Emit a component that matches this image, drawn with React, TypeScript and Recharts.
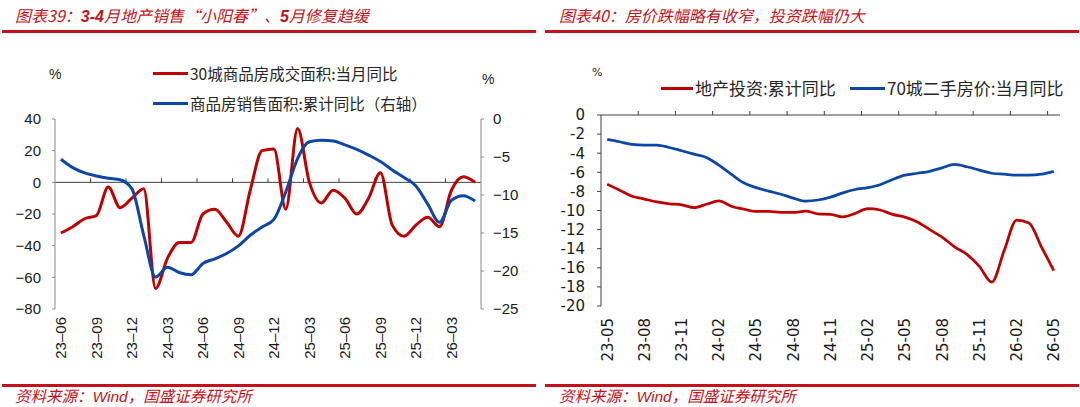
import React from 'react';
import { LineChart, Line, XAxis, YAxis, ReferenceLine } from 'recharts';

// ---------- 图表39：30城成交面积 与 全国商品房销售面积 ----------
const months39 = [
  '23-06', '23-07', '23-08', '23-09', '23-10', '23-11', '23-12',
  '24-01', '24-02', '24-03', '24-04', '24-05', '24-06', '24-07', '24-08', '24-09', '24-10', '24-11', '24-12',
  '25-01', '25-02', '25-03', '25-04', '25-05', '25-06', '25-07', '25-08', '25-09', '25-10', '25-11', '25-12',
  '26-01', '26-02', '26-03', '26-04', '26-05',
];
// 30城商品房成交面积:当月同比 (%)
const city30DealAreaYoY = [
  -32, -28, -23, -21, -3, -16, -10, -4, -67, -48, -38, -38, -20, -17, -25, -34, -5, 20, 21,
  -17, 34, 0, -13, -5, -10, -20, -10, 6, -27, -34, -27, -22, -28, -5, 3.5, 0,
];
// 商品房销售面积:累计同比 (%，右轴)
const salesAreaCumYoY = [
  -5.3, -6.4, -7.1, -7.5, -7.8, -8.0, -9.2, -15.3, -20.8, -19.5, -20.2, -20.5, -19.0, -18.4, -17.7, -16.7,
  -15.3, -14.2, -13.2, -9.6, -5.2, -3.0, -2.8, -2.9, -3.4, -4.0, -4.75, -5.6, -6.7, -7.7, -8.8, -11.2,
  -13.6, -10.7, -10.1, -10.8,
];
const tickLabels39 = ['23-06', '23-09', '23-12', '24-03', '24-06', '24-09', '24-12', '25-03', '25-06', '25-09', '25-12', '26-03'];
const leftTicks39 = [40, 20, 0, -20, -40, -60, -80];
const rightTicks39 = [0, -5, -10, -15, -20, -25];
const legend39 = ['30城商品房成交面积:当月同比', '商品房销售面积:累计同比（右轴）'];

// ---------- 图表40：地产投资 与 70城二手房价 ----------
const months40 = [
  '23-05', '23-06', '23-07', '23-08', '23-09', '23-10', '23-11', '23-12',
  '24-01', '24-02', '24-03', '24-04', '24-05', '24-06', '24-07', '24-08', '24-09', '24-10', '24-11', '24-12',
  '25-01', '25-02', '25-03', '25-04', '25-05', '25-06', '25-07', '25-08', '25-09', '25-10', '25-11', '25-12',
  '26-01', '26-02', '26-03', '26-04', '26-05',
];
// 地产投资:累计同比 (%)
const investCumYoY = [
  -7.24, -7.87, -8.5, -8.8, -9.1, -9.3, -9.4, -9.7, -9.35, -9.0, -9.55, -9.86, -10.1, -10.1, -10.2, -10.2,
  -10.07, -10.35, -10.4, -10.67, -10.3, -9.8, -9.95, -10.4, -10.7, -11.2, -12.0, -12.8, -13.8, -14.6, -15.85,
  -17.5, -14.2, -11.0, -11.3, -13.8, -16.3,
];
// 70城二手房价:当月同比 (%)
const resalePrice70YoY = [
  -2.55, -2.8, -3.08, -3.15, -3.15, -3.4, -3.74, -4.1, -4.44, -5.25, -6.2, -7.1, -7.6, -7.97, -8.3, -8.7,
  -9.02, -8.9, -8.6, -8.15, -7.8, -7.6, -7.3, -6.75, -6.3, -6.1, -5.9, -5.53, -5.18, -5.42, -5.77, -6.1,
  -6.2, -6.3, -6.3, -6.2, -5.9,
];
const tickLabels40 = ['23-05', '23-08', '23-11', '24-02', '24-05', '24-08', '24-11', '25-02', '25-05', '25-08', '25-11', '26-02', '26-05'];
const yTicks40 = [0, -2, -4, -6, -8, -10, -12, -14, -16, -18, -20];
const legend40 = ['地产投资:累计同比', '70城二手房价:当月同比'];

const RED = '#C00000';
const BLUE = '#0B47A5';
const BRAND = '#C4121C';
const CJK = '"Noto Sans CJK SC", "Noto Sans", sans-serif';
const ARIAL = '"Liberation Sans", Arial, sans-serif';
const VERDANA = '"DejaVu Sans", Verdana, sans-serif';

const rows39 = months39.map((m, i) => ({ i, month: m, city30: city30DealAreaYoY[i], salesCum: salesAreaCumYoY[i] }));
const rows40 = months40.map((m, i) => ({ i, month: m, invest: investCumYoY[i], price: resalePrice70YoY[i] }));

const minusSign = (v: number) => String(v).replace('-', '\u2212');

// horizontal axis line with upward tick marks at every `every`-th category boundary
const baselineWithTicks = (count: number, every: number, len: number, color: string) => (p: any) => {
  const { x1, x2, y1 } = p;
  const step = (x2 - x1) / count;
  const xs: number[] = [];
  for (let k = every; k < count; k += every) xs.push(x1 + k * step);
  return (
    <g>
      <line x1={x1} y1={y1} x2={x2} y2={y1} stroke={color} strokeWidth={1} />
      {xs.map((x) => (
        <line key={x} x1={x} y1={y1} x2={x} y2={y1 - len} stroke={color} strokeWidth={1} />
      ))}
    </g>
  );
};

const dateTick = (labels: string[], font: string, size: number, dash: string) => (p: any) => {
  const { x, y, payload } = p;
  const text = labels[payload.value].replace('-', dash);
  return (
    <text
      x={x}
      y={y}
      transform={`rotate(-90 ${x} ${y})`}
      textAnchor="end"
      dy="0.36em"
      fontFamily={font}
      fontSize={size}
      fill="#1a1a1a"
    >
      {text}
    </text>
  );
};

const Title = ({ left, children }: { left: number; children: React.ReactNode }) => (
  <div
    style={{
      position: 'absolute', left, top: 5, fontFamily: CJK, fontSize: 16, lineHeight: '20px',
      fontStyle: 'italic', color: BRAND, whiteSpace: 'nowrap',
    }}
  >
    {children}
  </div>
);

const Rule = ({ left, top, width }: { left: number; top: number; width: number }) => (
  <div style={{ position: 'absolute', left, top, width, height: 3, background: BRAND }} />
);

const Source = ({ left }: { left: number }) => (
  <div
    style={{
      position: 'absolute', left, top: 387, fontFamily: CJK, fontSize: 15.5, lineHeight: '17px',
      fontStyle: 'italic', color: BRAND, whiteSpace: 'nowrap',
    }}
  >
    资料来源：<span style={{ fontFamily: ARIAL }}>Wind</span>，国盛证券研究所
  </div>
);

const LegendItem = ({ left, cy, color, sample, text, size }: { left: number; cy: number; color: string; sample: number; text: string; size: number }) => (
  <div style={{ position: 'absolute', left, top: cy - 11, height: 22, display: 'flex', alignItems: 'center', whiteSpace: 'nowrap' }}>
    <div style={{ width: sample, height: 3, background: color, marginRight: 2 }} />
    <span style={{ fontFamily: CJK, fontSize: size, color: '#262626', lineHeight: '22px' }}>{text}</span>
  </div>
);

const Unit = ({ left, cy, size, font }: { left: number; cy: number; size: number; font: string }) => (
  <div style={{ position: 'absolute', left, top: cy - 10, fontFamily: font, fontSize: size, lineHeight: '20px', color: '#1a1a1a' }}>%</div>
);

function Panel39() {
  return (
    <div style={{ position: 'absolute', left: 0, top: 0, width: 540, height: 407 }}>
      <LineChart width={540} height={375} data={rows39} margin={{ top: 119, right: 14, bottom: 6, left: 10 }}>
        <XAxis
          dataKey="i"
          type="number"
          domain={[-0.5, months39.length - 0.5]}
          ticks={tickLabels39.map((t) => months39.indexOf(t))}
          interval={0}
          height={60}
          axisLine={false}
          tickLine={false}
          tickSize={0}
          tickMargin={8}
          tick={dateTick(months39, ARIAL, 15, '\u2013')}
        />
        <YAxis
          yAxisId="left"
          width={45}
          domain={[-80, 40]}
          ticks={leftTicks39}
          interval={0}
          tickFormatter={minusSign}
          axisLine={{ stroke: '#8a8a8a' }}
          tickLine={{ stroke: '#8a8a8a' }}
          tickSize={3}
          tickMargin={11}
          tick={{ fill: '#1a1a1a', fontSize: 15, fontFamily: ARIAL }}
        />
        <YAxis
          yAxisId="right"
          orientation="right"
          width={45}
          domain={[-25, 0]}
          ticks={rightTicks39}
          interval={0}
          tickFormatter={minusSign}
          axisLine={{ stroke: '#8a8a8a' }}
          tickLine={{ stroke: '#8a8a8a' }}
          tickSize={3}
          tickMargin={9}
          tick={{ fill: '#1a1a1a', fontSize: 15, fontFamily: ARIAL }}
        />
        <ReferenceLine yAxisId="left" y={0} shape={baselineWithTicks(months39.length, 3, 4, '#404040')} />
        <Line
          yAxisId="left"
          dataKey="city30"
          type="monotone"
          stroke={RED}
          strokeWidth={3}
          dot={false}
          activeDot={false}
          isAnimationActive={false}
        />
        <Line
          yAxisId="right"
          dataKey="salesCum"
          type="monotone"
          stroke={BLUE}
          strokeWidth={3}
          dot={false}
          activeDot={false}
          isAnimationActive={false}
        />
      </LineChart>

      <Title left={15}>
        图表39：<b style={{ fontFamily: ARIAL }}>3-4</b>月地产销售“小阳春”、<b style={{ fontFamily: ARIAL }}>5</b>月修复趋缓
      </Title>
      <Rule left={2} top={30} width={534} />
      <LegendItem left={153} cy={73} color={RED} sample={35} text={legend39[0]} size={15.5} />
      <LegendItem left={153} cy={103} color={BLUE} sample={35} text={legend39[1]} size={15.5} />
      <Unit left={49} cy={74} size={14} font={ARIAL} />
      <Unit left={482} cy={79} size={14} font={ARIAL} />
      <Rule left={2} top={384} width={534} />
      <Source left={15} />
    </div>
  );
}

function Panel40() {
  return (
    <div style={{ position: 'absolute', left: 540, top: 0, width: 540, height: 407 }}>
      <LineChart width={540} height={375} data={rows40} margin={{ top: 115, right: 20, bottom: 9, left: 5 }}>
        <XAxis
          dataKey="i"
          type="number"
          domain={[-0.5, months40.length - 0.5]}
          ticks={tickLabels40.map((t) => months40.indexOf(t))}
          interval={0}
          height={60}
          axisLine={false}
          tickLine={false}
          tickSize={0}
          tickMargin={12}
          tick={dateTick(months40, VERDANA, 15, '-')}
        />
        <YAxis
          width={56}
          domain={[-20, 0]}
          ticks={yTicks40}
          interval={0}
          axisLine={{ stroke: '#404040' }}
          tickLine={{ stroke: '#404040' }}
          tickSize={4}
          tickMargin={12}
          tick={{ fill: '#1a1a1a', fontSize: 15, fontFamily: VERDANA }}
        />
        <ReferenceLine y={0} shape={baselineWithTicks(months40.length, 3, 4, '#404040')} />
        <Line
          dataKey="invest"
          type="monotone"
          stroke={RED}
          strokeWidth={2.75}
          dot={false}
          activeDot={false}
          isAnimationActive={false}
        />
        <Line
          dataKey="price"
          type="monotone"
          stroke={BLUE}
          strokeWidth={2.75}
          dot={false}
          activeDot={false}
          isAnimationActive={false}
        />
      </LineChart>

      <Title left={19}>图表40：房价跌幅略有收窄，投资跌幅仍大</Title>
      <Rule left={5} top={30} width={534} />
      <LegendItem left={121} cy={88} color={RED} sample={32} text={legend40[0]} size={17} />
      <LegendItem left={310} cy={88} color={BLUE} sample={35} text={legend40[1]} size={17} />
      <Unit left={52} cy={73} size={11} font={VERDANA} />
      <Rule left={5} top={384} width={534} />
      <Source left={19} />
    </div>
  );
}

export default function App() {
  return (
    <div style={{ position: 'absolute', left: 0, top: 0, width: 1080, height: 407, background: '#ffffff', overflow: 'hidden' }}>
      <Panel39 />
      <Panel40 />
    </div>
  );
}
